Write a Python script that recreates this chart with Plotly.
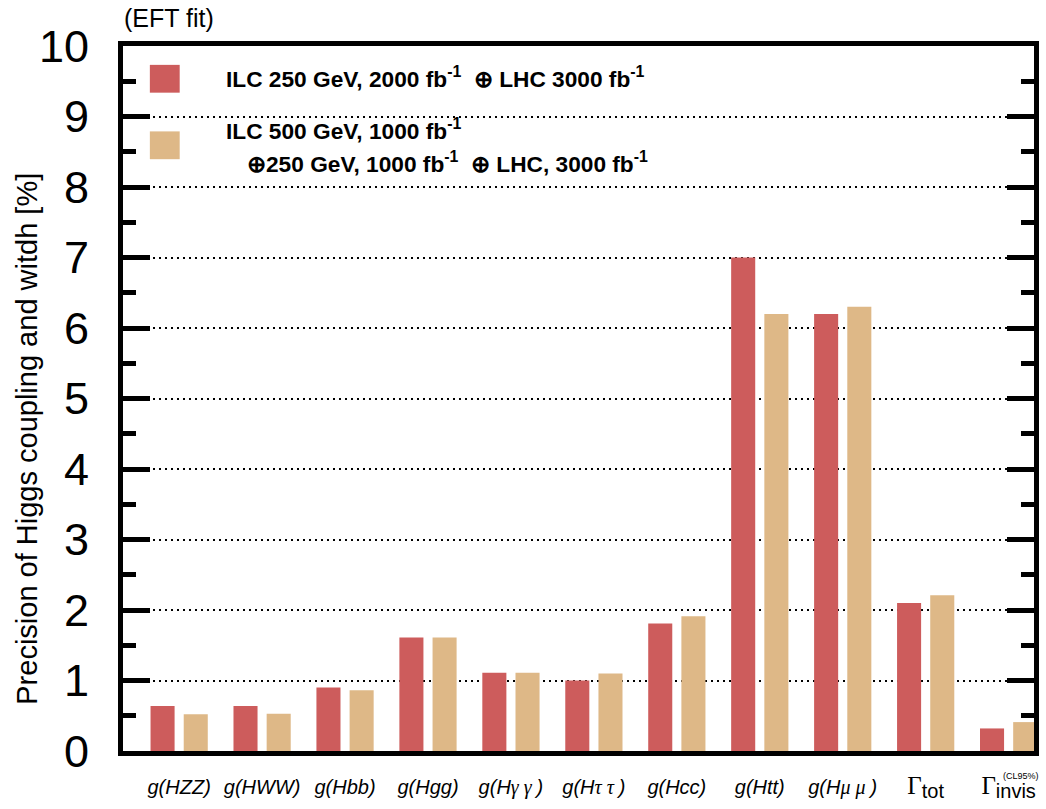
import plotly.graph_objects as go

categories = ["HZZ", "HWW", "Hbb", "Hgg", "Hgamgam", "Htautau", "Hcc", "Htt", "Hmumu", "Gtot", "Ginv"]
GR = "<span style='font-family:Liberation Serif;font-style:italic'>{}</span>"
tick_labels = [
    "<i>g(HZZ)</i>",
    "<i>g(HWW)</i>",
    "<i>g(Hbb)</i>",
    "<i>g(Hgg)</i>",
    "<i>g(H</i>" + GR.format("γ γ ") + "<i>)</i>",
    "<i>g(H</i>" + GR.format("τ τ ") + "<i>)</i>",
    "<i>g(Hcc)</i>",
    "<i>g(Htt)</i>",
    "<i>g(H</i>" + GR.format("μ μ ") + "<i>)</i>",
    "<span style='font-family:Liberation Serif;font-size:25px'>Γ</span><sub><span style='font-size:20px'>tot</span></sub>",
    "<span style='font-family:Liberation Serif;font-size:25px'>Γ</span><sub><span style='font-size:20px'>invis</span></sub>",
]
ilc250 = [0.64, 0.64, 0.90, 1.61, 1.11, 1.00, 1.81, 7.00, 6.20, 2.10, 0.32]
ilc500 = [0.52, 0.53, 0.86, 1.61, 1.11, 1.10, 1.91, 6.20, 6.30, 2.21, 0.41]
y_ticks = list(range(0, 11))

name250 = "ILC 250 GeV, 2000 fb<sup>-1</sup>  ⊕ LHC 3000 fb<sup>-1</sup>"
name500a = "ILC 500 GeV, 1000 fb<sup>-1</sup>"
name500b = "⊕250 GeV, 1000 fb<sup>-1</sup>  ⊕ LHC, 3000 fb<sup>-1</sup>"

RED = "#CD5C5C"
TAN = "#DEB887"
FONT = "Liberation Sans"

fig = go.Figure()
fig.add_trace(go.Bar(x=categories, y=ilc250, name="ILC 250", marker=dict(color=RED, line=dict(width=0))))
fig.add_trace(go.Bar(x=categories, y=ilc500, name="ILC 500", marker=dict(color=TAN, line=dict(width=0))))

W, H = 1046, 809
L, R, T, B = 123, 7, 46, 53
pw, ph = W - L - R, H - T - B

def px(x):
    return (x - L) / pw

def py(y):
    return (H - B - y) / ph

fig.update_layout(
    width=W, height=H,
    margin=dict(l=L, r=R, t=T, b=B, pad=0),
    paper_bgcolor="white", plot_bgcolor="white",
    barmode="group", bargap=0.2, bargroupgap=0.275,
    showlegend=False,
    font=dict(family=FONT, color="black"),
    xaxis=dict(
        range=[-0.677, 10.306],
        tickvals=categories, ticktext=tick_labels,
        tickfont=dict(size=20, family=FONT, color="black"),
        ticks="", showgrid=False, zeroline=False,
        showline=True, linecolor="black", linewidth=5, mirror=True,
        ticklabelstandoff=14,
    ),
    yaxis=dict(
        range=[0, 10],
        tickvals=y_ticks,
        tickfont=dict(size=45, family=FONT, color="black"),
        ticks="inside", ticklen=27, tickwidth=5, tickcolor="black",
        showline=True, linecolor="black", linewidth=5, mirror="ticks",
        showgrid=True, gridcolor="black", gridwidth=2, griddash="2px,4px",
        zeroline=False,
        ticklabelstandoff=20,
        minor=dict(dtick=0.5, tick0=0, ticks="inside", ticklen=13, tickwidth=5,
                   tickcolor="black", showgrid=False),
    ),
)

shapes = [
    dict(type="rect", xref="paper", yref="paper", x0=px(150), x1=px(180), y0=py(93), y1=py(65),
         fillcolor=RED, line=dict(width=0), layer="above"),
    dict(type="rect", xref="paper", yref="paper", x0=px(150), x1=px(180), y0=py(160), y1=py(132),
         fillcolor=TAN, line=dict(width=0), layer="above"),
]
fig.update_layout(shapes=shapes)

ann = [
    dict(text="(EFT fit)", xref="paper", yref="paper", x=px(122), y=py(18), xanchor="left", yanchor="middle",
         showarrow=False, font=dict(size=25, family=FONT, color="black")),
    dict(text="Precision of Higgs coupling and witdh [%]", xref="paper", yref="paper", x=px(27), y=py(442),
         xanchor="center", yanchor="middle", textangle=-90, showarrow=False,
         font=dict(size=29, family=FONT, color="black")),
    dict(text="<b>" + name250 + "</b>", xref="paper", yref="paper", x=px(225), y=py(78), xanchor="left",
         yanchor="middle", showarrow=False, font=dict(size=22.7, family=FONT, color="black")),
    dict(text="<b>" + name500a + "</b>", xref="paper", yref="paper", x=px(225), y=py(130), xanchor="left",
         yanchor="middle", showarrow=False, font=dict(size=22.7, family=FONT, color="black")),
    dict(text="<b>" + name500b + "</b>", xref="paper", yref="paper", x=px(246), y=py(163), xanchor="left",
         yanchor="middle", showarrow=False, font=dict(size=22.7, family=FONT, color="black")),
    dict(text="(CL95%)", xref="x", yref="paper", x=categories[-1], xshift=12, y=py(781), xanchor="center",
         yanchor="middle", showarrow=False, font=dict(size=9, family=FONT, color="black")),
]
fig.update_layout(annotations=ann)

fig.write_html("out.html", config={"displayModeBar": False},
               post_script="document.body.style.margin='0px';")
